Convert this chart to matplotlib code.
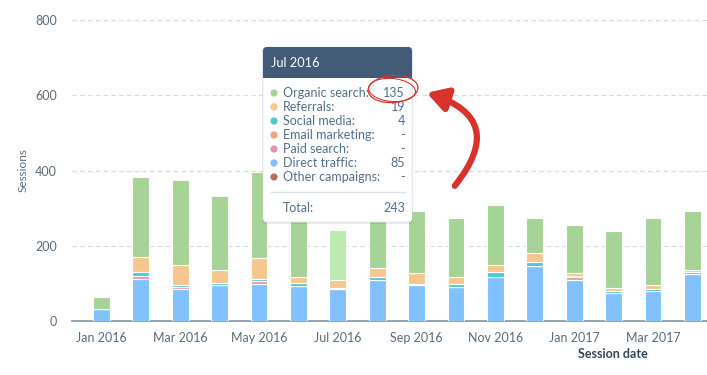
import matplotlib
matplotlib.use("Agg")
import matplotlib.pyplot as plt
from matplotlib.patches import FancyBboxPatch, Ellipse, FancyArrowPatch, Circle
import numpy as np

plt.rcParams['font.family'] = ['Lato', 'DejaVu Sans']

# monthly sessions by source
months = ['Jan 2016', 'Feb 2016', 'Mar 2016', 'Apr 2016', 'May 2016', 'Jun 2016',
          'Jul 2016', 'Aug 2016', 'Sep 2016', 'Oct 2016', 'Nov 2016', 'Dec 2016',
          'Jan 2017', 'Feb 2017', 'Mar 2017', 'Apr 2017']
organic = [34, 211, 226, 195, 230, 182, 135, 160, 165, 156, 158, 94, 128, 152, 178, 156]
referrals = [0, 42, 51, 34, 55, 17, 19, 22, 28, 19, 19, 22, 7, 7, 10, 7]
social = [0, 9, 7, 7, 7, 7, 4, 8, 3, 9, 13, 11, 2, 5, 6, 3]
email = [0, 0, 0, 0, 0, 0, 0, 0, 0, 0, 0, 0, 8, 0, 0, 0]
paid = [0, 9, 6, 0, 6, 0, 0, 0, 0, 0, 0, 0, 0, 0, 0, 0]
direct = [31, 111, 84, 95, 99, 94, 85, 110, 96, 90, 118, 147, 110, 75, 80, 126]
other = [0] * 16

# tooltip order; stacked bottom-up in reverse
series = [('Organic search', organic, '#a6d497'),
          ('Referrals', referrals, '#f5c78e'),
          ('Social media', social, '#51c9d3'),
          ('Email marketing', email, '#f2a186'),
          ('Paid search', paid, '#ea90b1'),
          ('Direct traffic', direct, '#81c1fd'),
          ('Other campaigns', other, '#c06c5a')]
hover = 6

fig = plt.figure(figsize=(7.07, 3.75), dpi=100)
ax = fig.add_axes([72 / 707, 1 - 321 / 375, 635 / 707, 301 / 375])

x = np.arange(len(months))
bottom = np.zeros(len(months))
for name, vals, col in reversed(series):
    vals = np.array(vals, dtype=float)
    cols = [col] * len(months)
    if name == 'Organic search':
        cols[hover] = '#bdeab0'
    ax.bar(x, vals, 0.43, bottom=bottom, color=cols, edgecolor='white',
           linewidth=0.8, zorder=3)
    bottom += vals

ax.set_xlim(-0.745, 15.37)
ax.set_ylim(0, 800)
ax.set_yticks([0, 200, 400, 600, 800])
ax.set_xticks(x[::2])
ax.set_xticklabels(months[::2])
ax.grid(axis='y', color='#d5dbe2', linestyle=(0, (4, 3)), linewidth=0.8, zorder=0)
for s in ['top', 'right', 'left']:
    ax.spines[s].set_visible(False)
ax.spines['bottom'].set_color('#7f94a8')
ax.spines['bottom'].set_linewidth(1.2)
ax.tick_params(length=0, labelsize=9, colors='#5c6b7a', pad=8)
ax.tick_params(axis='y', pad=11)
fig.text(23 / 707, 1 - 170 / 375, 'Sessions', rotation=90, ha='center', va='center',
         fontsize=8.5, color='#5c6b7a')
fig.text(613 / 707, 1 - 354 / 375, 'Session date', ha='center', va='center',
         fontsize=9, fontweight='bold', color='#33475b')

# tooltip overlay in pixel space
ov = fig.add_axes([0, 0, 1, 1])
ov.set_xlim(0, 707)
ov.set_ylim(375, 0)
ov.axis('off')

ov.add_patch(FancyBboxPatch((262, 47), 151, 177, boxstyle='round,pad=0,rounding_size=4',
                            fc='#000000', ec='none', alpha=0.08, zorder=1))
ov.add_patch(FancyBboxPatch((263, 47), 149, 175, boxstyle='round,pad=0,rounding_size=4',
                            fc='white', ec='#e3e8ee', lw=0.6, zorder=2))
ov.add_patch(FancyBboxPatch((263, 47), 149, 31, boxstyle='round,pad=0,rounding_size=4',
                            fc='#425b76', ec='none', zorder=3))
ov.add_patch(plt.Rectangle((263, 70), 149, 8, fc='#425b76', ec='none', zorder=3))
ov.text(271, 63, months[hover], color='white', fontsize=9.2,
        va='center', ha='left', zorder=4)

row_y = 93
for name, vals, col in series:
    v = vals[hover]
    ov.add_patch(Circle((274, row_y), 3.6, fc=col, ec='none', zorder=4))
    ov.text(283, row_y, name + ':', color='#516f90', fontsize=9, va='center', zorder=4)
    ov.text(405, row_y, str(v) if v else '-', color='#516f90', fontsize=9,
            va='center', ha='right', zorder=4)
    row_y += 14
ov.plot([271, 405], [192, 192], color='#dfe3eb', lw=1, zorder=4)
total = sum(vals[hover] for _, vals, _ in series)
ov.text(283, 208, 'Total:', color='#516f90', fontsize=9, va='center', zorder=4)
ov.text(405, 208, str(total), color='#516f90', fontsize=9, va='center', ha='right', zorder=4)

# red hand-drawn highlight
ov.add_patch(Ellipse((393, 89), 50, 27, angle=-4, fill=False, ec='#d7332b', lw=0.9, zorder=5))
ov.add_patch(Ellipse((392, 90), 47, 23, angle=5, fill=False, ec='#d7332b', lw=0.8, zorder=5))
ov.add_patch(FancyArrowPatch((453, 188), (424, 92), connectionstyle='arc3,rad=0.75',
                             arrowstyle='-|>,head_length=12,head_width=7',
                             color='#d7332b', lw=4.5, zorder=5))

fig.savefig('out.png', dpi=100)
